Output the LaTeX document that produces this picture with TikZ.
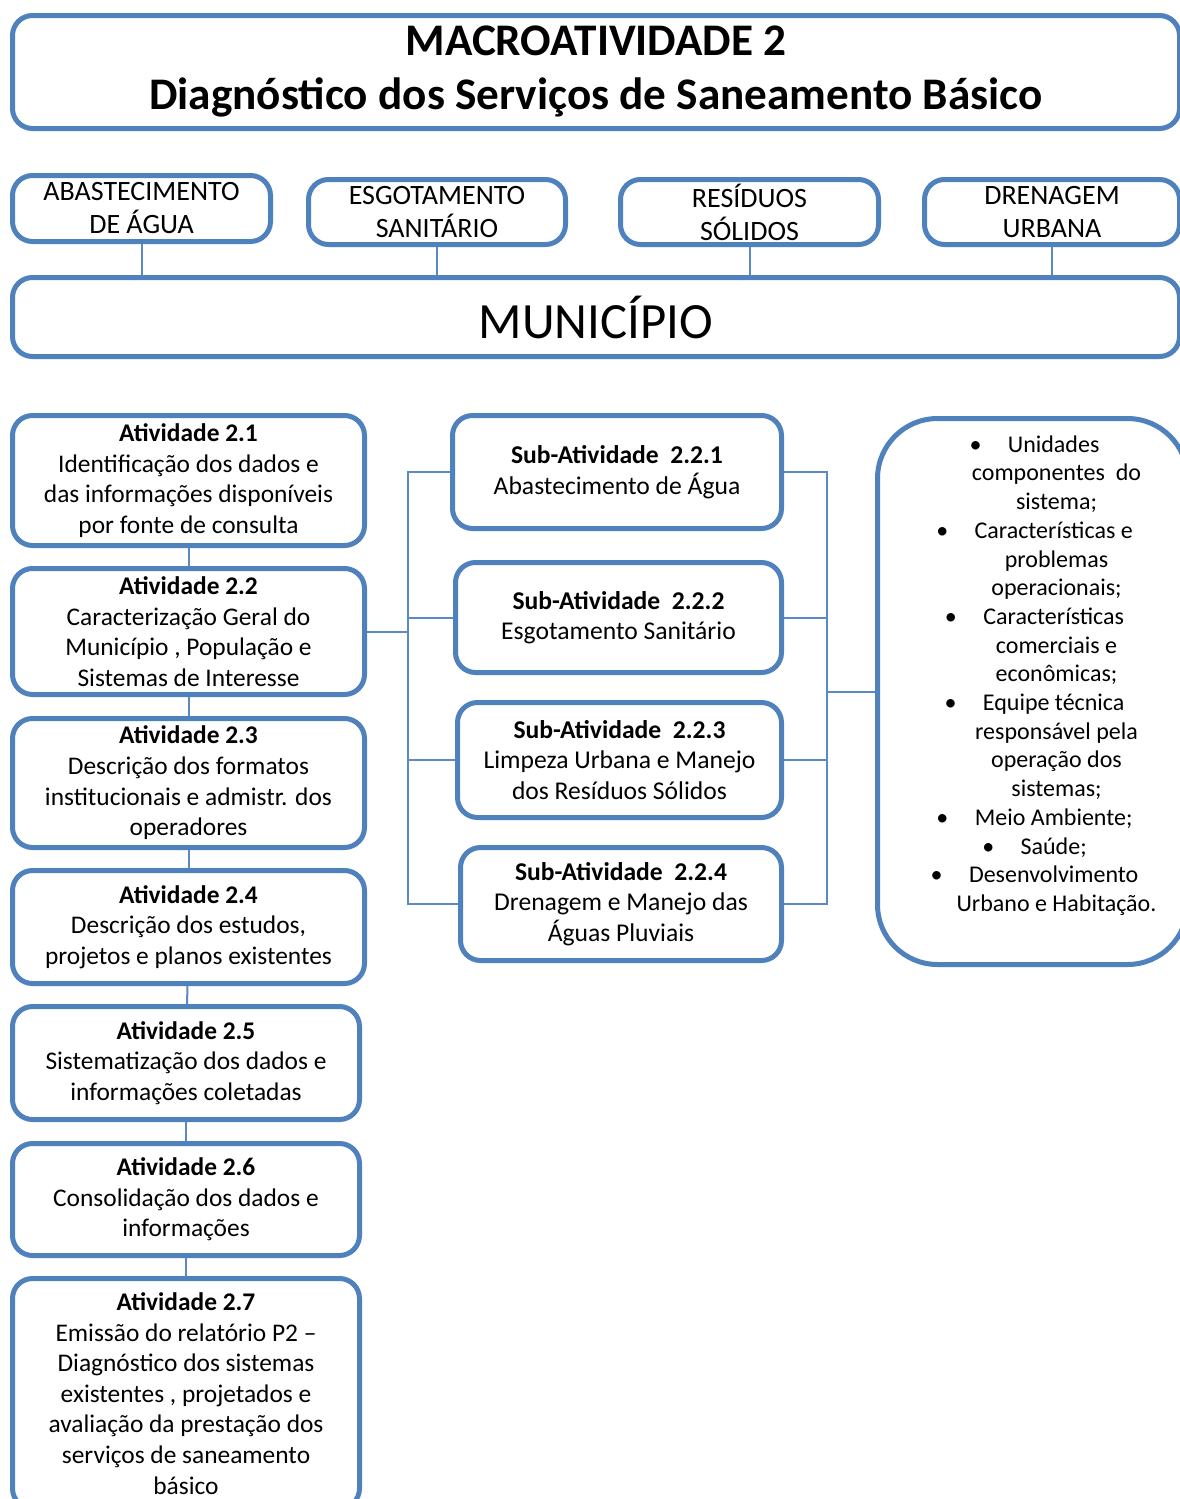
\documentclass[tikz,border=0pt]{standalone}
\usepackage{fontspec}
\setmainfont{Carlito}
\usetikzlibrary{positioning, calc}
\definecolor{boxBlue}{HTML}{4F81BD}
\definecolor{lineBlue}{HTML}{5A8AC6}
\newcommand{\InfoItem}[1]{•\hspace{1.1em}#1\mbox{\hspace{22pt}}}
\tikzset{
    % Boxes
    baseBox/.style={draw=boxBlue, line width=2.5pt, rounded corners=10pt, fill=white,
        anchor=north west, align=center, inner sep=0pt},
    sized/.style 2 args={minimum width=#1*0.5pt, minimum height=#2*0.5pt},
    titleBox/.style={baseBox, font=\fontsize{22.6}{27}\selectfont\bfseries},
    catBox/.style={baseBox, font=\fontsize{14}{16.5}\selectfont},
    muniBox/.style={baseBox, font=\fontsize{25.4}{28}\selectfont},
    actBox/.style={baseBox, font=\fontsize{12.7}{15.3}\selectfont},
    subBox/.style={baseBox, font=\fontsize{12.8}{15.3}\selectfont},
    infoBox/.style={baseBox, rounded corners=30pt},
    infoText/.style={align=center, inner sep=0pt, font=\fontsize{12}{14.35}\selectfont},
    % Connectors
    link/.style={draw=lineBlue, line width=1pt}
}

\begin{document}
\begin{tikzpicture}[x=0.5pt, y=-0.5pt]
    \useasboundingbox (0,0) rectangle (1179,1499);

    % Header
    \node[titleBox, sized={1167}{113}] (title) at (10,13)
        {MACROATIVIDADE 2\\Diagnóstico dos Serviços de Saneamento Básico};

    % Services
    \node[catBox, sized={258}{66}] (cat1) at (10,173) {ABASTECIMENTO\\DE ÁGUA};
    \node[catBox, sized={257}{65}] (cat2) at (306,177) {ESGOTAMENTO\\SANITÁRIO};
    \node[catBox, sized={258}{65}] (cat3) at (618,177) {RESÍDUOS\\SÓLIDOS};
    \node[catBox, sized={255}{65}] (cat4) at (922,177) {DRENAGEM\\URBANA};
    \node[muniBox, sized={1167}{79}] (muni) at (10,275) {MUNICÍPIO};
    \foreach \c in {1,...,4} \draw[link] (cat\c.south) -- (cat\c.south |- muni.north);

    % Activities
    \node[actBox, sized={352}{130}] (a21) at (10,413)
        {\textbf{Atividade 2.1}\\Identificação dos dados e\\das informações disponíveis\\por fonte de consulta};
    \node[actBox, sized={352}{126}] (a22) at (10,566)
        {\textbf{Atividade 2.2}\\Caracterização Geral do\\Município , População e\\Sistemas de Interesse};
    \node[actBox, sized={352}{129}] (a23) at (10,716)
        {\textbf{Atividade 2.3}\\Descrição dos formatos\\institucionais e admistr. dos\\operadores};
    \node[actBox, sized={352}{113}] (a24) at (10,868)
        {\textbf{Atividade 2.4}\\Descrição dos estudos,\\projetos e planos existentes};
    \node[actBox, sized={347}{113}] (a25) at (10,1004)
        {\textbf{Atividade 2.5}\\Sistematização dos dados e\\informações coletadas};
    \node[actBox, sized={347}{112}] (a26) at (10,1141)
        {\textbf{Atividade 2.6}\\Consolidação dos dados e\\informações};
    \node[actBox, sized={347}{230}] (a27) at (10,1276)
        {\textbf{Atividade 2.7}\\Emissão do relatório P2 –\\Diagnóstico dos sistemas\\existentes , projetados e\\avaliação da prestação dos\\serviços de saneamento\\básico};
    \foreach \i/\j in {21/22, 22/23, 23/24, 24/25, 25/26, 26/27} \draw[link] (a\i) -- (a\j);

    % Sub-activities
    \node[subBox, sized={329}{113}] (s221) at (450,413)
        {\textbf{Sub-Atividade\ \ 2.2.1}\\Abastecimento de Água};
    \node[subBox, sized={326}{110}] (s222) at (453,560)
        {\textbf{Sub-Atividade\ \ 2.2.2}\\Esgotamento Sanitário};
    \node[subBox, sized={324}{115}] (s223) at (455,700)
        {\textbf{Sub-Atividade\ \ 2.2.3}\\Limpeza Urbana e Manejo\\dos Resíduos Sólidos};
    \node[subBox, sized={321}{113}] (s224) at (458,845)
        {\textbf{Sub-Atividade\ \ 2.2.4}\\Drenagem e Manejo das\\Águas Pluviais};

    % Contents
    \node[infoBox, sized={310}{546}] (info) at (875,416) {};
    \node[infoText] (infoTxt) at ($(info.center)+(24,-16)$)
        {\InfoItem{Unidades}\\componentes\ \ do\\sistema;\\
         \InfoItem{Características e}\\problemas\\operacionais;\\
         \InfoItem{Características}\\comerciais e\\econômicas;\\
         \InfoItem{Equipe técnica}\\responsável pela\\operação dos\\sistemas;\\
         \InfoItem{Meio Ambiente;}\\
         \InfoItem{Saúde;}\\
         \InfoItem{Desenvolvimento}\\Urbano e Habitação.};

    % Buses
    \coordinate (busL) at (408,0);
    \coordinate (busR) at (827,0);
    \draw[link] (a22.east) -- (a22.east -| busL);
    \draw[link] (s221.west) -- (s221.west -| busL) -- (s224.west -| busL) -- (s224.west);
    \foreach \s in {222,223} \draw[link] (s\s.west) -- (s\s.west -| busL);
    \draw[link] (s221.east) -- (s221.east -| busR) -- (s224.east -| busR) -- (s224.east);
    \foreach \s in {222,223} \draw[link] (s\s.east) -- (s\s.east -| busR);
    \draw[link] (info.west -| busR) -- (info.west);
\end{tikzpicture}
\end{document}
